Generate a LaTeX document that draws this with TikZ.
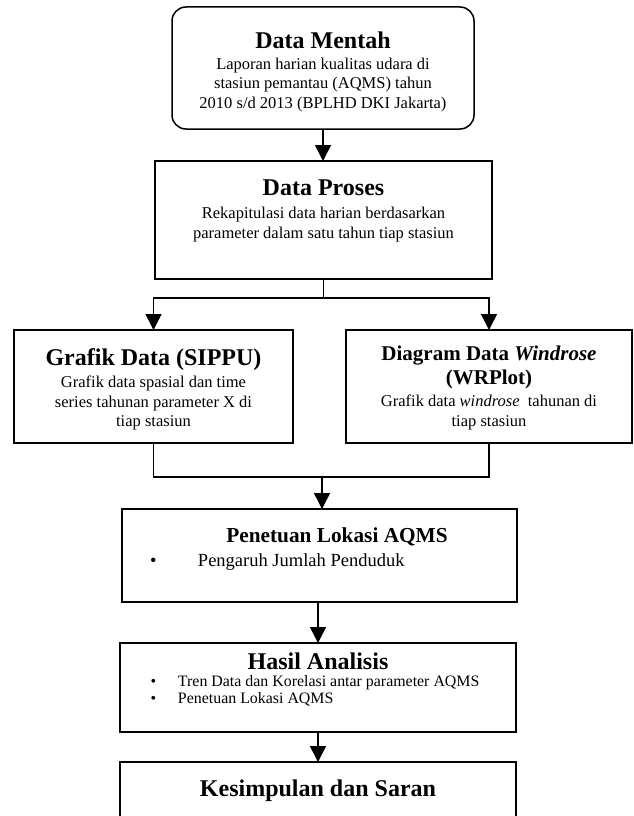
\documentclass[tikz,border=0pt]{standalone}
\usepackage{fontspec}
\setmainfont{Liberation Serif}
\usetikzlibrary{arrows.meta}

% heading font: optional size, bold
\newcommand\hd[2][24]{{\fontsize{#1}{19.5}\selectfont\bfseries #2}}
% body text font
\newcommand\tx{\fontsize{16.5}{19.5}\selectfont}
% fixed-size, top-aligned text block: width, height, first baseline, content
\newcommand\pbx[4]{\parbox[c][#2][t]{#1}{\centering\rule{0pt}{#3}#4\par}}

\begin{document}
\begin{tikzpicture}[x=1pt,y=-1pt,
  box/.style={draw, line width=1.5pt, inner sep=0pt, outer sep=0pt},
  link/.style={line width=1.5pt},
  arr/.style={line width=1.5pt, -{Triangle[length=16pt,width=16pt]}}]
\useasboundingbox (0,0) rectangle (634,816);
\fill[white] (0,0) rectangle (634,816);
\clip (0,0) rectangle (634,816);

\node[box, rounded corners=14pt] (mentah) at (323,68)
  {\pbx{302pt}{122pt}{41pt}{\hd{Data Mentah}\\[1.5pt]\tx Laporan harian kualitas udara di\\stasiun pemantau (AQMS) tahun\\2010 s/d 2013 (BPLHD DKI Jakarta)}};

\node[box] (proses) at (323.5,220)
  {\pbx{337pt}{118pt}{34pt}{\hd{Data Proses}\\[4pt]\tx Rekapitulasi data harian berdasarkan\\parameter dalam satu tahun tiap stasiun}};

\node[box] (grafik) at (153.5,386.5)
  {\pbx{279pt}{113pt}{35pt}{\hd{Grafik Data (SIPPU)}\\[3pt]\tx Grafik data spasial dan time\\series tahunan parameter X di\\tiap stasiun}};

\node[box] (wind) at (489,386.5)
  {\pbx{286pt}{113pt}{30pt}{\hd[21]{Diagram Data \textit{Windrose}}\\[4pt]\hd[21]{(WRPlot)}\\[3pt]\tx Grafik data \textit{windrose}\ \ tahunan di\\tiap stasiun}};

\node[box] (lokasi) at (319.5,555.5)
  {\pbx{395pt}{93pt}{33pt}{\hspace*{35pt}\hd[21.3]{Penetuan Lokasi AQMS}\\[7pt]\fontsize{18.5}{17}\selectfont
   \makebox[\linewidth][l]{\hspace*{28pt}\makebox[48pt][l]{•}Pengaruh Jumlah Penduduk}}};

\node[box] (hasil) at (318,687.5)
  {\pbx{396pt}{89pt}{26pt}{\hd{Hasil Analisis}\\[0pt]\fontsize{15.9}{17}\selectfont
   \makebox[\linewidth][l]{\hspace*{30.5pt}\makebox[27.5pt][l]{•}Tren Data dan Korelasi antar parameter AQMS}\\
   \makebox[\linewidth][l]{\hspace*{30.5pt}\makebox[27.5pt][l]{•}Penetuan Lokasi AQMS}}};

\node[box] (simpul) at (318,802)
  {\pbx{396pt}{80pt}{34pt}{\hd{Kesimpulan dan Saran}}};

% branching and merging points
\coordinate (split) at (323.5,298);
\coordinate (merge) at (322,477);

\draw[arr] (mentah.south) -- (mentah.south |- proses.north);
\draw[link] (proses.south) -- (split);
\draw[arr] (split) -| (grafik.north);
\draw[arr] (split) -| (wind.north);
\draw[link] (grafik.south) |- (merge);
\draw[link] (wind.south) |- (merge);
\draw[arr] (merge) -- (merge |- lokasi.north);
\draw[arr] (hasil.north |- lokasi.south) -- (hasil.north);
\draw[arr] (hasil.south) -- (simpul.north);
\end{tikzpicture}
\end{document}
